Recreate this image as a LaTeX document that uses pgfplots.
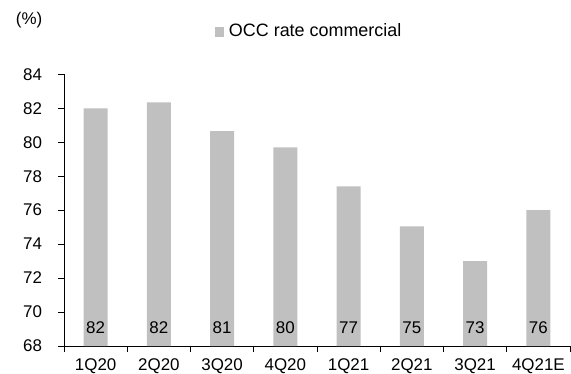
\documentclass[border=0pt]{standalone}
\usepackage{pgfplots}
\pgfplotsset{compat=1.18}
\usepackage{fontspec}
\setmainfont{Liberation Sans}
\definecolor{barcol}{HTML}{C0C0C0}
\begin{document}
\fontsize{17.5}{20}\selectfont
\begin{tikzpicture}
\path[use as bounding box] (-64bp,-28bp) rectangle (507bp,346bp);
\begin{axis}[
  at={(0,0)}, anchor=south west,
  scale only axis, width=506bp, height=271.7bp,
  xmin=-0.5, xmax=7.5, ymin=68, ymax=84,
  ytick={68,70,...,84},
  yticklabel={\pgfmathprintnumber{\tick}\hspace*{10bp}},
  xtick={-0.5,0.5,...,7.5}, xticklabels={,,,,,,,,,},
  extra x ticks={0,1,2,3,4,5,6,7},
  extra x tick labels={1Q20,2Q20,3Q20,4Q20,1Q21,2Q21,3Q21,4Q21E},
  extra x tick style={major tick length=0pt, grid=none,
    xticklabel style={yshift=-7bp}},
  axis x line*=bottom, axis y line*=left,
  axis line style={-, black, line width=0.9bp},
  tick style={black, line width=0.9bp},
  tick align=outside, major tick length=6bp,
  /pgf/number format/assume math mode=true,
  tick label style={font=\fontsize{17}{20}\selectfont},
  legend style={draw=none, fill=none, at={(0.298,1.157)}, anchor=west,
    font=\fontsize{18}{21}\selectfont, inner sep=0pt},
  legend image code/.code={\fill[barcol] (0bp,-5bp) rectangle (9bp,5bp); \path (12bp,0bp);},
  clip=false,
]
\addplot[ybar, bar width=24bp, fill=barcol, draw=none] coordinates {
 (0,82.0) (1,82.35) (2,80.65) (3,79.7) (4,77.4) (5,75.05) (6,73.0) (7,76.0)};
\addlegendentry{OCC rate commercial}
\addplot[draw=none, mark=none, nodes near coords, point meta=explicit symbolic,
  every node near coord/.style={anchor=center, font=\fontsize{17}{20}\selectfont, text=black}]
  coordinates {(0,69.1) [82] (1,69.1) [82] (2,69.1) [81] (3,69.1) [80]
               (4,69.1) [77] (5,69.1) [75] (6,69.1) [73] (7,69.1) [76]};
\node[font=\fontsize{17}{20}\selectfont] at (axis description cs:-0.069,1.198) {(\%)};
\end{axis}
\end{tikzpicture}
\end{document}
